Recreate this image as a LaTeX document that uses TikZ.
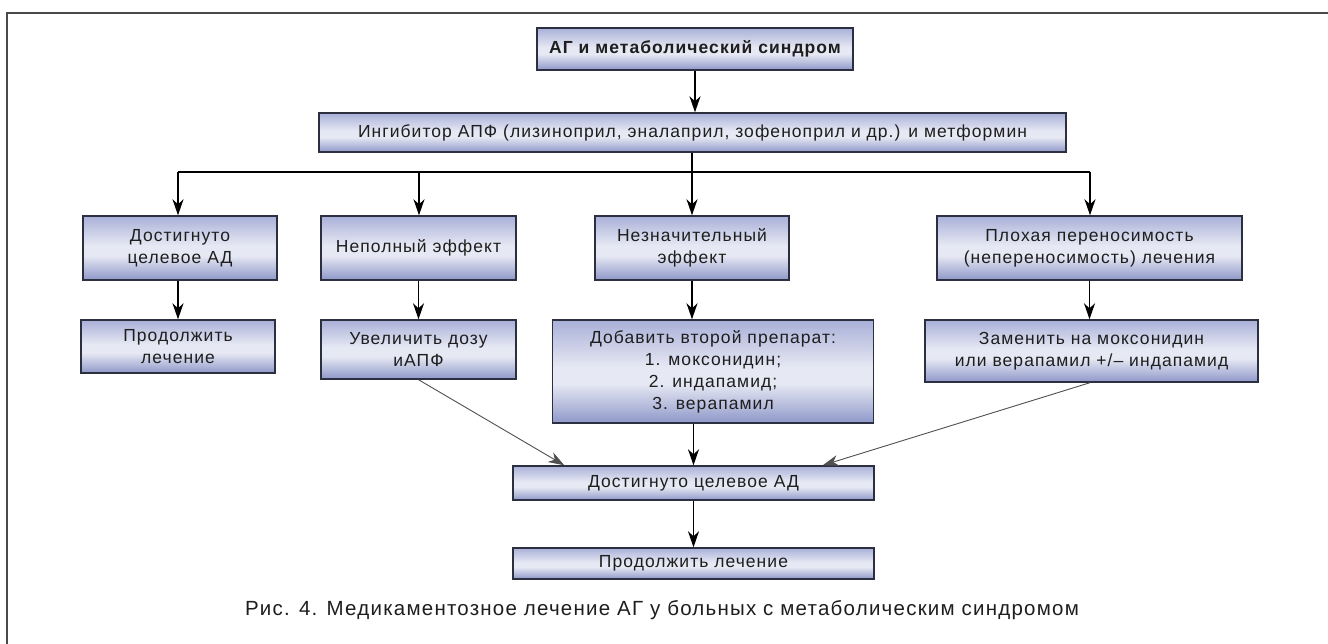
\documentclass[tikz,border=0pt]{standalone}
\usepackage{fontspec}
\setmainfont{Liberation Sans}[LetterSpace=6]
\usetikzlibrary{arrows.meta,calc}

\definecolor{frameline}{HTML}{4A4A4A}
\definecolor{boxline}{HTML}{2C2F40}
\definecolor{txt}{HTML}{1E1E1E}
\definecolor{shB}{HTML}{8E98C9}
\definecolor{shM}{HTML}{E6E8F3}
\definecolor{shT}{HTML}{A9B0D8}
\definecolor{diag}{HTML}{505050}

% light band a little below the middle, lavender at top and bottom
\pgfdeclareverticalshading{boxfill}{100bp}{color(0bp)=(shB); color(25bp)=(shB);
  color(44bp)=(shM); color(52bp)=(shM); color(75bp)=(shT); color(100bp)=(shT)}

\newcommand{\boxfont}{\fontsize{17.5}{22}\selectfont}

\tikzset{
  fbox/.style 2 args={draw=boxline, line width=1.4pt, shade, shading=boxfill,
    inner sep=0pt, align=center, text=txt, font=\boxfont,
    minimum width=#1, minimum height=#2},
  arr/.style={line width=1.3pt, draw=black, -{Stealth[length=16pt,width=11pt,inset=5pt]}},
  darr/.style={line width=0.9pt, draw=diag, -{Stealth[length=16pt,width=11pt,inset=5pt]}},
  link/.style={line width=1.3pt, draw=black},
}

\begin{document}
\begin{tikzpicture}[x=1pt,y=-1pt]
\useasboundingbox (0,0) rectangle (1328,644);
\fill[white] (0,0) rectangle (1328,644);

% frame around the figure
\draw[frameline, line width=2.2pt] (7,644) -- (7,13) -- (1328,13);

% boxes
\node[fbox={316pt}{42pt}, font=\boxfont\bfseries] (top) at (695,49) {АГ и метаболический синдром};
\node[fbox={747pt}{39pt}] (ace) at (692.5,132.5) {Ингибитор АПФ (лизиноприл, эналаприл, зофеноприл и др.) и метформин};

\node[fbox={194pt}{64pt}] (r3a) at (180,248) {Достигнуто\\целевое АД};
\node[fbox={195pt}{64pt}] (r3b) at (418.5,248) {Неполный эффект};
\node[fbox={194pt}{64pt}] (r3c) at (692,248) {Незначительный\\эффект};
\node[fbox={305pt}{64pt}] (r3d) at (1089.5,248) {Плохая переносимость\\(непереносимость) лечения};

\node[fbox={194pt}{53pt}] (r4a) at (178,346.5) {Продолжить\\лечение};
\node[fbox={195pt}{59pt}] (r4b) at (418.5,349.5) {Увеличить дозу\\иАПФ};
\node[fbox={321pt}{103pt}] (r4c) at (713,371.5) {Добавить второй препарат:\\1. моксонидин;\\2. индапамид;\\3. верапамил};
\node[fbox={333pt}{62pt}] (r4d) at (1091.5,351) {Заменить на моксонидин\\или верапамил +/-- индапамид};

\node[fbox={361pt}{34pt}] (ach) at (693.5,483) {Достигнуто целевое АД};
\node[fbox={361pt}{31pt}] (cont) at (693.5,563.5) {Продолжить лечение};

\node[text=txt, font=\fontsize{20.5}{24}\selectfont] (cap) at (662,610)
  {Рис. 4. Медикаментозное лечение АГ у больных с метаболическим синдромом};

% connectors
\draw[arr] (top.south) -- (top.south |- ace.north);

\coordinate (busL) at (178,172);
\coordinate (busR) at (1090,172);
\draw[link] (busL) -- (busR);
\draw[link] (ace.south -| r3c.north) -- (r3c.north |- busL);
\draw[arr] (busL) -- (busL |- r3a.north);
\draw[arr] ([xshift=0.5pt]r3b.north |- busL) -- ([xshift=0.5pt]r3b.north);
\draw[arr] (r3c.north |- busL) -- (r3c.north);
\draw[arr] (busR) -- (busR |- r3d.north);

\draw[arr] (r3a.south -| r4a.north) -- (r4a.north);
\draw[arr] (r3b.south) -- (r4b.north);
\draw[arr] (r3c.south) -- (r3c.south |- r4c.north);
\draw[arr] (r3d.south) -- (r3d.south |- r4d.north);

\draw[darr] (r4b.south) -- ([xshift=52pt]ach.north west);
\draw[darr] ([xshift=-1.5pt]r4d.south) -- ([xshift=-52pt]ach.north east);
\draw[arr] (r4c.south -| ach.north) -- (ach.north);

\draw[arr] (ach.south) -- (cont.north);
\end{tikzpicture}
\end{document}
